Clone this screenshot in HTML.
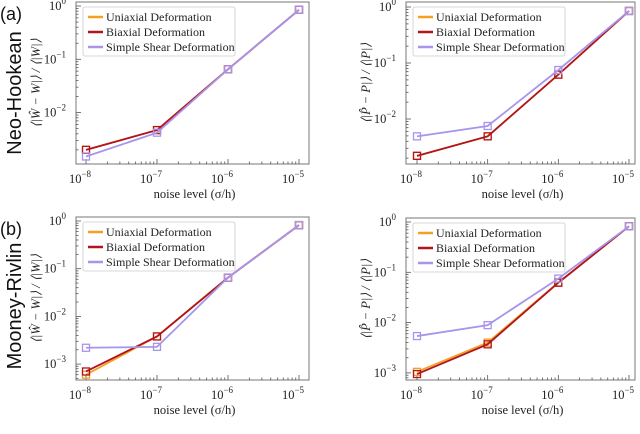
<!DOCTYPE html>
<html><head><meta charset="utf-8">
<style>
html,body{margin:0;padding:0;background:#fff;}
svg{display:block;}
text{font-family:"Liberation Serif",serif;}
</style></head>
<body>
<svg id="fig" width="640" height="434" viewBox="0 0 640 434" xmlns="http://www.w3.org/2000/svg"></svg>
<script>
const noiseLevels = [1e-8, 1e-7, 1e-6, 1e-5];
const xTickExps = [-8, -7, -6, -5];
const seriesNames = ["Uniaxial Deformation", "Biaxial Deformation", "Simple Shear Deformation"];
const seriesColors = ["#f5a020", "#b0141c", "#a994ec"];
// panel a-left (energy, Neo-Hookean)
const nhEnergyUni = [2.0e-3, 4.7e-3, 0.065, 0.85];
const nhEnergyBi = [2.0e-3, 4.7e-3, 0.065, 0.85];
const nhEnergyShear = [1.5e-3, 4.2e-3, 0.065, 0.85];
// panel a-right (stress, Neo-Hookean)
const nhStressUni = [2.2e-3, 4.9e-3, 0.062, 0.85];
const nhStressBi = [2.2e-3, 4.9e-3, 0.062, 0.85];
const nhStressShear = [4.9e-3, 7.5e-3, 0.075, 0.85];
// panel b-left (energy, Mooney-Rivlin)
const mrEnergyUni = [6.0e-4, 3.8e-3, 0.065, 0.82];
const mrEnergyBi = [7.0e-4, 3.8e-3, 0.065, 0.82];
const mrEnergyShear = [2.2e-3, 2.3e-3, 0.065, 0.82];
// panel b-right (stress, Mooney-Rivlin)
const mrStressUni = [1.05e-3, 4.0e-3, 0.063, 0.82];
const mrStressBi = [9.5e-4, 3.7e-3, 0.062, 0.82];
const mrStressShear = [5.4e-3, 8.9e-3, 0.075, 0.82];

const NS = "http://www.w3.org/2000/svg";
const svg = document.getElementById("fig");
function mk(tag, attrs, parent) {
  const e = document.createElementNS(NS, tag);
  for (const k in attrs) e.setAttribute(k, attrs[k]);
  (parent || svg).appendChild(e);
  return e;
}

const panels = [
  {id:"nh-energy", left:76, right:309, top:2, bottom:164, x8:86, x5:299, yTop:6, yTopExp:0, decade:53.3, yExps:[0,-1,-2], ylabel:"⟨|Ŵ − W|⟩ / ⟨|W|⟩", data:[nhEnergyUni,nhEnergyBi,nhEnergyShear], ylx:40},
  {id:"nh-stress", left:406, right:635, top:2, bottom:164, x8:417, x5:629, yTop:7, yTopExp:0, decade:56, yExps:[0,-1,-2], ylabel:"⟨|P̂ − P|⟩ / ⟨|P|⟩", data:[nhStressUni,nhStressBi,nhStressShear], ylx:370},
  {id:"mr-energy", left:76, right:309, top:217, bottom:380, x8:86, x5:299, yTop:221, yTopExp:0, decade:47.7, yExps:[0,-1,-2,-3], ylabel:"⟨|Ŵ − W|⟩ / ⟨|W|⟩", data:[mrEnergyUni,mrEnergyBi,mrEnergyShear], ylx:40},
  {id:"mr-stress", left:406, right:635, top:218, bottom:380, x8:417, x5:629, yTop:222, yTopExp:0, decade:50.3, yExps:[0,-1,-2,-3], ylabel:"⟨|P̂ − P|⟩ / ⟨|P|⟩", data:[mrStressUni,mrStressBi,mrStressShear], ylx:370}
];

panels.forEach(p => {
  const g = mk("g", {});
  
  
  const xs = v => p.x8 + (Math.log10(v) + 8) * (p.x5 - p.x8) / 3;
  const ys = v => p.yTop + (p.yTopExp - Math.log10(v)) * p.decade;
  const box = mk("rect", {x:p.left, y:p.top, width:p.right-p.left, height:p.bottom-p.top, fill:"none", stroke:"#777", "stroke-width":1}, g);
  
  
  xTickExps.forEach(e => {
    for (let m = 1; m <= 9; m++) {
      if (e === -5 && m > 1) break;
      const x = xs(m * Math.pow(10, e));
      const len = m === 1 ? 5 : 2.5;
      mk("line", {x1:x, x2:x, y1:p.bottom, y2:p.bottom-len, stroke:"#555", "stroke-width":0.8}, g);
    }
    const t = mk("text", {x:xs(Math.pow(10,e))-6, y:p.bottom+19, "font-size":12.5, "text-anchor":"middle", fill:"#222"}, g);
    t.textContent = "10";
    const s = mk("tspan", {dy:-6, "font-size":9}, t);
    s.textContent = "−" + (-e);
    
    
  });
  const lo = Math.floor(p.yTopExp - (p.bottom - p.yTop)/p.decade);
  for (let e = lo; e <= 0; e++) {
    for (let m = 1; m <= 9; m++) {
      const v = m * Math.pow(10, e);
      const y = ys(v);
      if (y < p.top || y > p.bottom) continue;
      const len = m === 1 ? 5 : 2.5;
      mk("line", {x1:p.left, x2:p.left+len, y1:y, y2:y, stroke:"#555", "stroke-width":0.8}, g);
    }
  }
  p.yExps.forEach(e => {
    const t = mk("text", {x:p.left-10, y:ys(Math.pow(10,e))+4, "font-size":12.5, "text-anchor":"end", fill:"#222"}, g);
    t.textContent = "10";
    const s = mk("tspan", {dy:-6, "font-size":9}, t);
    s.textContent = e === 0 ? "0" : "−" + (-e);
    
    
  });
  const xt = mk("text", {x:(p.left+p.right)/2 + 2, y:p.bottom+34, "font-size":12.5, "text-anchor":"middle", fill:"#222"}, g);
  xt.textContent = "noise level (σ/h)";
  
  
  const cy = (p.top + p.bottom)/2;
  const yt = mk("text", {x:p.ylx, y:cy, "font-size":12.5, "text-anchor":"middle", fill:"#222", "font-style":"italic", transform:`rotate(-90 ${p.ylx} ${cy})`}, g);
  yt.textContent = p.ylabel;
  
  
  p.data.forEach((vals, i) => {
    const pts = vals.map((v, j) => xs(noiseLevels[j]) + "," + ys(v)).join(" ");
    const line = mk("polyline", {points:pts, fill:"none", stroke:seriesColors[i], "stroke-width":1.8}, g);
    
    
    vals.forEach((v, j) => {
      const mkr = mk("rect", {x:xs(noiseLevels[j])-3.5, y:ys(v)-3.5, width:7, height:7, fill:"none", stroke:seriesColors[i], "stroke-width":1.3}, g);
      
      
    });
  });
  const lx = p.left + 7, ly = p.top + 5;
  const lg = mk("g", {}, g);
  
  
  mk("rect", {x:lx, y:ly, width:152, height:49, fill:"#fff", stroke:"#ccc", "stroke-width":0.8, rx:2}, lg);
  seriesNames.forEach((n, i) => {
    const yy = ly + 10 + i * 15;
    mk("line", {x1:lx+5, x2:lx+20, y1:yy, y2:yy, stroke:seriesColors[i], "stroke-width":2.5}, lg);
    const t = mk("text", {x:lx+23, y:yy+4, "font-size":12, fill:"#222"}, lg);
    t.textContent = n;
    
    
  });
});

[["(a)", 0, 20, "panel-a-label"], ["(b)", 0, 235, "panel-b-label"]].forEach(r => {
  const t = mk("text", {x:r[1], y:r[2], "font-size":18, fill:"#111", style:'font-family:"Liberation Sans",sans-serif'});
  t.textContent = r[0];
  
  
});
[["Neo-Hookean", 93, "row-label-neo-hookean"], ["Mooney-Rivlin", 306, "row-label-mooney-rivlin"]].forEach(r => {
  const t = mk("text", {x:21, y:r[1], "font-size":20, fill:"#111", "text-anchor":"middle", transform:`rotate(-90 21 ${r[1]})`, style:'font-family:"Liberation Sans",sans-serif'});
  t.textContent = r[0];
  
  
});
</script>
</body></html>
